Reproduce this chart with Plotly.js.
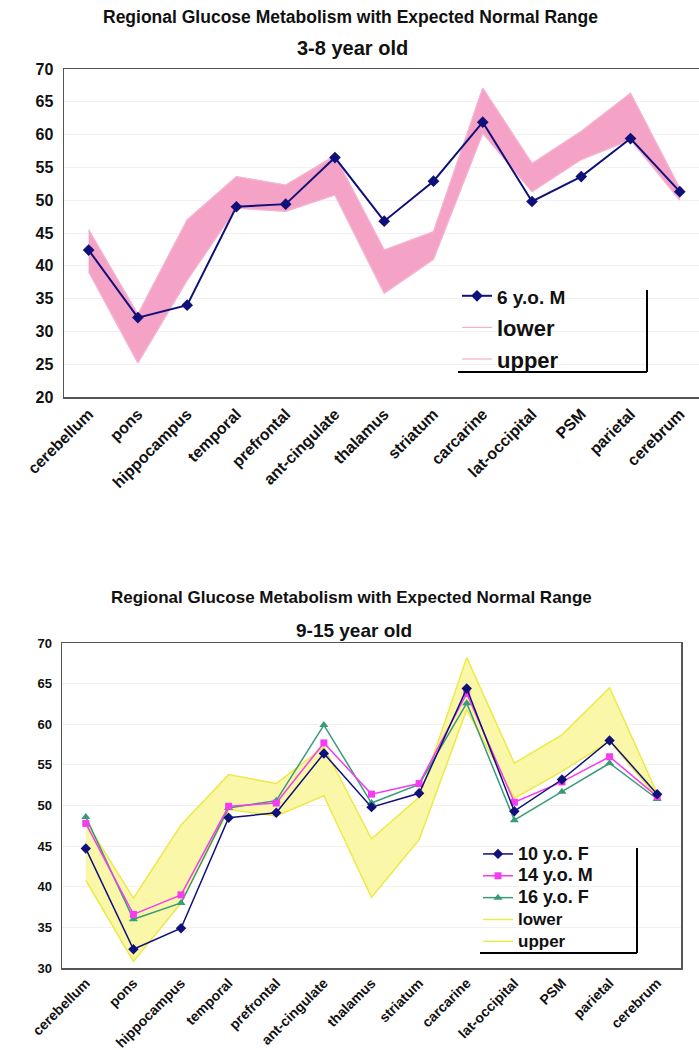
<!DOCTYPE html>
<html>
<head>
<meta charset="utf-8">
<script src="https://cdn.plot.ly/plotly-3.0.1.min.js"></script>
<style>html,body{margin:0;padding:0;background:#fff;}#chart{width:699px;height:1050px;}</style>
</head>
<body>
<div id="chart"></div>
<script>
// ---- data ----
const regions = ["cerebellum","pons","hippocampus","temporal","prefrontal","ant-cingulate","thalamus","striatum","carcarine","lat-occipital","PSM","parietal","cerebrum"];

// 3-8 year old panel
const young6M   = [42.4, 32.1, 34.0, 49.0, 49.4, 56.5, 46.8, 52.9, 61.9, 49.8, 53.6, 59.4, 51.3];
const youngLower= [39.1, 25.2, 37.8, 48.8, 48.3, 50.8, 35.8, 41.0, 60.2, 51.3, 56.2, 59.2, 50.0];
const youngUpper= [45.5, 32.6, 47.0, 53.6, 52.3, 56.8, 42.4, 45.2, 67.1, 55.6, 60.5, 66.3, 51.8];

// 9-15 year old panel
const old10F    = [44.7, 32.3, 34.9, 48.5, 49.1, 56.4, 49.8, 51.5, 64.4, 49.3, 53.2, 58.0, 51.4];
const old14M    = [47.8, 36.6, 39.0, 49.9, 50.3, 57.7, 51.4, 52.7, 63.8, 50.4, 52.9, 56.0, 51.1];
const old16F    = [48.6, 36.0, 38.0, 49.7, 50.6, 59.9, 50.3, 52.6, 62.6, 48.2, 51.7, 55.2, 50.8];
const oldLower  = [40.8, 30.8, 38.0, 49.5, 48.7, 51.2, 38.7, 45.8, 61.8, 50.9, 54.2, 57.9, 51.0];
const oldUpper  = [48.0, 38.6, 47.6, 53.8, 52.7, 57.2, 45.9, 51.0, 68.2, 55.2, 58.7, 64.5, 51.5];

const titleText = "Regional Glucose Metabolism with Expected Normal Range";
const sub1 = "3-8 year old";
const sub2 = "9-15 year old";

// ---- styles ----
const FONT = "Liberation Sans, Arial, Helvetica, sans-serif";
const NAVY = "#10107a";
const PINK_FILL = "#f5a2c7";
const PINK_LINE = "#f5b3d1";
const YEL_FILL = "#faf8a8";
const YEL_LINE = "#ecea4a";
const MAG = "#f53cf0";
const GRN = "#3a9a7c";

// closed polygon for a band, built from lower/upper arrays
function band(lower, upper) {
  return {
    x: regions.concat(regions.slice().reverse()),
    y: lower.concat(upper.slice().reverse())
  };
}
const bandYoung = band(youngLower, youngUpper);
const bandOld = band(oldLower, oldUpper);

const traces = [
  {x: bandYoung.x, y: bandYoung.y, type:'scatter', mode:'lines', fill:'toself', fillcolor:PINK_FILL,
   line:{color:PINK_FILL, width:0.5}, showlegend:false, xaxis:'x', yaxis:'y', hoverinfo:'skip'},
  {x: regions, y: youngLower, name: '<span style="font-size:22px">lower</span>', type:'scatter', mode:'lines',
   line:{color:PINK_LINE, width:1.3}, xaxis:'x', yaxis:'y', legend:'legend', legendrank:2},
  {x: regions, y: youngUpper, name: '<span style="font-size:22px">upper</span>', type:'scatter', mode:'lines',
   line:{color:PINK_LINE, width:1.3}, xaxis:'x', yaxis:'y', legend:'legend', legendrank:3},
  {x: regions, y: young6M, name: '<span style="font-size:19px">6 y.o. M</span>', type:'scatter', mode:'lines+markers',
   line:{color:NAVY, width:2}, marker:{symbol:'diamond', size:9, color:NAVY}, xaxis:'x', yaxis:'y', legend:'legend', legendrank:1},

  {x: bandOld.x, y: bandOld.y, type:'scatter', mode:'lines', fill:'toself', fillcolor:YEL_FILL,
   line:{color:YEL_FILL, width:0.5}, showlegend:false, xaxis:'x2', yaxis:'y2', hoverinfo:'skip'},
  {x: regions, y: oldLower, name: '<span style="font-size:17px">lower</span>', type:'scatter', mode:'lines',
   line:{color:YEL_LINE, width:1.5}, xaxis:'x2', yaxis:'y2', legend:'legend2', legendrank:4},
  {x: regions, y: oldUpper, name: '<span style="font-size:17px">upper</span>', type:'scatter', mode:'lines',
   line:{color:YEL_LINE, width:1.5}, xaxis:'x2', yaxis:'y2', legend:'legend2', legendrank:5},
  {x: regions, y: old16F, name: '<span style="font-size:18px">16 y.o. F</span>', type:'scatter', mode:'lines+markers',
   line:{color:GRN, width:1.5}, marker:{symbol:'triangle-up', size:8, color:GRN}, xaxis:'x2', yaxis:'y2', legend:'legend2', legendrank:3},
  {x: regions, y: old14M, name: '<span style="font-size:18px">14 y.o. M</span>', type:'scatter', mode:'lines+markers',
   line:{color:MAG, width:1.5}, marker:{symbol:'square', size:7, color:MAG}, xaxis:'x2', yaxis:'y2', legend:'legend2', legendrank:2},
  {x: regions, y: old10F, name: '<span style="font-size:18px">10 y.o. F</span>', type:'scatter', mode:'lines+markers',
   line:{color:NAVY, width:1.5}, marker:{symbol:'diamond', size:8, color:NAVY}, xaxis:'x2', yaxis:'y2', legend:'legend2', legendrank:1}
];

const W = 699, H = 1050;
const px = v => v / W;
const py = v => 1 - v / H;

const axisCommon = {
  showline:true, linecolor:'#555', linewidth:1.5, ticks:'', zeroline:false
};

const layout = {
  width: W, height: H,
  margin:{l:0,r:0,t:0,b:0},
  paper_bgcolor:'#fff', plot_bgcolor:'#fff',
  font:{family:FONT, color:'#111'},
  showlegend:true,
  xaxis: Object.assign({}, axisCommon, {
    domain:[px(64), 1], range:[-0.5, 12.39], type:'category', anchor:'y',
    mirror:true, showgrid:false, tickangle:-45,
    tickfont:{family:FONT, size:16, weight:'bold', color:'#111'}
  }),
  yaxis: Object.assign({}, axisCommon, {
    domain:[py(397), py(69)], range:[20,70], anchor:'x', dtick:5,
    showgrid:true, gridcolor:'#f1f1f1', gridwidth:1,
    tickfont:{family:FONT, size:16, weight:'bold', color:'#111'}, ticklabelstandoff:6
  }),
  xaxis2: Object.assign({}, axisCommon, {
    domain:[px(62), px(681)], range:[-0.5, 12.5], type:'category', anchor:'y2',
    mirror:true, showgrid:false, tickangle:-45,
    tickfont:{family:FONT, size:14, weight:'bold', color:'#111'}
  }),
  yaxis2: Object.assign({}, axisCommon, {
    domain:[py(968), py(643)], range:[30,70], anchor:'x2', dtick:5, mirror:true,
    showgrid:true, gridcolor:'#f1f1f1', gridwidth:1,
    tickfont:{family:FONT, size:13, weight:'bold', color:'#111'}, ticklabelstandoff:6
  }),
  legend:{
    x:px(457), y:py(275), xanchor:'left', yanchor:'top',
    bgcolor:'rgba(0,0,0,0)', borderwidth:0,
    font:{family:FONT, size:22, weight:'bold', color:'#111'},
    tracegroupgap:0, traceorder:'normal'
  },
  legend2:{
    x:px(478), y:py(838), xanchor:'left', yanchor:'top',
    bgcolor:'rgba(0,0,0,0)', borderwidth:0,
    font:{family:FONT, size:14.5, weight:'bold', color:'#111'},
    tracegroupgap:0, traceorder:'normal'
  },
  annotations:[
    {text:titleText, x:px(350), y:py(17), xref:'paper', yref:'paper', xanchor:'center', yanchor:'middle', showarrow:false,
     font:{family:FONT, size:17.5, weight:'bold', color:'#111'}},
    {text:sub1, x:px(352), y:py(48), xref:'paper', yref:'paper', xanchor:'center', yanchor:'middle', showarrow:false,
     font:{family:FONT, size:20, weight:'bold', color:'#111'}},
    {text:titleText, x:px(351), y:py(597), xref:'paper', yref:'paper', xanchor:'center', yanchor:'middle', showarrow:false,
     font:{family:FONT, size:17, weight:'bold', color:'#111'}},
    {text:sub2, x:px(354), y:py(630), xref:'paper', yref:'paper', xanchor:'center', yanchor:'middle', showarrow:false,
     font:{family:FONT, size:19, weight:'bold', color:'#111'}}
  ],
  shapes:[
    {type:'line', xref:'paper', yref:'paper', x0:px(647), x1:px(647), y0:py(290), y1:py(372), line:{color:'#000', width:2}},
    {type:'line', xref:'paper', yref:'paper', x0:px(458), x1:px(647), y0:py(372), y1:py(372), line:{color:'#000', width:2}},
    {type:'line', xref:'paper', yref:'paper', x0:px(637), x1:px(637), y0:py(848), y1:py(953), line:{color:'#000', width:2}},
    {type:'line', xref:'paper', yref:'paper', x0:px(480), x1:px(637), y0:py(953), y1:py(953), line:{color:'#000', width:2}}
  ]
};

Plotly.newPlot('chart', traces, layout, {staticPlot:true, displayModeBar:false});
</script>
</body>
</html>
